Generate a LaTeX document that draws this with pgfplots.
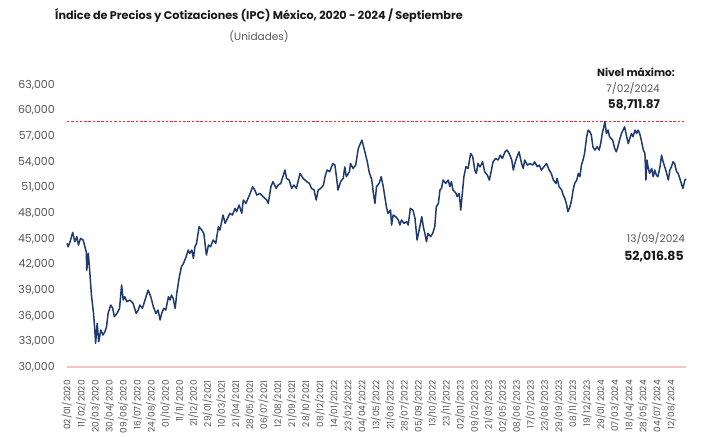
\documentclass[border=0pt]{standalone}
\usepackage{fontspec}
\setmainfont{Poppins}
\usepackage{pgfplots}
\pgfplotsset{compat=1.18}
\definecolor{linec}{HTML}{1F3A6E}
\definecolor{pinkc}{HTML}{F2C4C4}
\definecolor{grayt}{HTML}{555555}
\definecolor{titc}{HTML}{1A1A1A}
\begin{document}
\begin{tikzpicture}
\useasboundingbox (-67bp,-70bp) rectangle (638bp,367bp);
\begin{axis}[
  at={(0,0)}, anchor=south west,
  scale only axis, width=619bp, height=282bp,
  xmin=0, xmax=1190, ymin=30000, ymax=63000,
  clip=false,
  axis x line*=bottom, axis y line*=left,
  y axis line style={draw=none},
  x axis line style={draw=pinkc, line width=2.8bp, -},
  tick style={draw=none},
  scaled y ticks=false,
  ytick={30000,33000,36000,39000,42000,45000,48000,51000,54000,57000,60000,63000},
  /pgf/number format/.cd, 1000 sep={,}, assume math mode=true, /pgfplots/.cd,
  yticklabel style={anchor=east, inner sep=0pt, xshift=-12bp, text=grayt, font=\fontsize{11bp}{12bp}\selectfont},
  xtick={0,27,54,81,108,135,162,189,216,243,270,297,324,351,378,405,432,459,486,513,540,567,594,621,648,675,702,729,756,783,810,837,864,891,918,945,972,999,1026,1053,1080,1107,1134,1161},
  xticklabels={02/01/2020,11/02/2020,20/03/2020,30/04/2020,09/06/2020,16/07/2020,24/08/2020,01/10/2020,11/11/2020,21/12/2020,29/01/2021,10/03/2021,21/04/2021,28/05/2021,06/07/2021,12/08/2021,21/09/2021,28/10/2021,08/12/2021,14/01/2022,23/02/2022,04/04/2022,13/05/2022,21/06/2022,28/07/2022,05/09/2022,13/10/2022,23/11/2022,02/01/2023,09/02/2023,21/03/2023,02/05/2023,08/06/2023,17/07/2023,23/08/2023,29/09/2023,08/11/2023,19/12/2023,29/01/2024,07/03/2024,18/04/2024,28/05/2024,04/07/2024,12/08/2024},
  xticklabel style={rotate=90, anchor=east, inner xsep=13bp, inner ysep=0pt, text=grayt, font=\fontsize{9bp}{10bp}\selectfont},
]
\addplot[red!85!white, no marks, line width=1.3bp, dash pattern=on 2.5bp off 1.8bp] coordinates {(0,58711.87) (1190,58711.87)};
\addplot[color=linec, no marks, line width=1.5bp, line join=round] coordinates {
(0,44470)(2,44070)(6,44660)(11,45760)(15,44660)(19,45250)(22,44270)(26,45050)(31,44860)(37,43490)
(38,41350)(41,43300)(44,40960)(47,38420)(51,36270)(53,34710)(55,32770)(58,35110)(61,32960)(65,34330)
(69,33740)(73,34130)(76,34710)(79,36270)(84,37250)(88,36860)(91,35880)(96,36270)(101,36860)(105,39590)
(108,37840)(111,38230)(115,37640)(121,37840)(127,37450)(133,36270)(137,36670)(140,37250)(145,36860)(150,37840)
(156,39010)(161,38230)(166,37060)(171,36270)(175,36670)(179,35500)(182,36270)(186,36860)(190,36670)(195,38230)
(198,37840)(201,38420)(204,38040)(208,36860)(211,38620)(216,40570)(220,41740)(224,42130)(229,42900)(233,43690)
(236,43300)(240,43690)(243,42720)(246,44070)(249,44470)(254,46410)(259,46030)(263,45640)(268,43100)(272,44270)
(276,44070)(281,44860)(286,44470)(291,46410)(294,46030)(300,47780)(304,46810)(310,47590)(313,47980)(318,47780)
(323,48570)(326,48170)(331,48950)(336,47980)(339,49540)(344,49150)(348,49730)(352,50320)(357,51100)(361,50710)
(365,50120)(371,50320)(377,49930)(384,49540)(387,49150)(392,51100)(396,51690)(402,50910)(406,51290)(411,51490)
(414,52080)(419,53050)(422,52080)(427,51880)(432,50910)(436,51290)(441,50910)(448,52650)(454,52080)(461,51690)
(466,51490)(470,50910)(475,50710)(479,49540)(483,50710)(488,50910)(493,51290)(496,52270)(500,53050)(505,52850)
(511,53810)(515,53630)(518,52270)(521,50710)(526,51690)(531,52080)(534,53420)(537,52270)(543,52850)(545,53810)
(550,53230)(555,53630)(560,55570)(564,56150)(567,56540)(573,55100)(577,54100)(581,52800)(586,51880)(589,50320)
(592,49150)(595,51100)(600,51490)(604,52270)(608,51100)(611,49930)(614,48760)(617,47980)(622,48370)(624,46610)
(627,47780)(632,47590)(637,47200)(640,46610)(643,47200)(648,46810)(653,47000)(656,46610)(660,48570)(665,48370)
(669,47390)(673,44860)(677,46030)(682,47590)(685,46420)(688,45640)(691,44660)(694,45640)(699,45250)(703,45640)
(707,46420)(710,48760)(714,49150)(717,50710)(720,50910)(723,51880)(728,51490)(733,51880)(736,51100)(739,51690)
(742,50710)(748,50320)(750,49930)(754,50320)(757,48370)(760,50320)(763,52270)(767,53440)(771,53230)(776,54990)
(780,54600)(784,53050)(787,52650)(790,53810)(794,53420)(799,54010)(803,52850)(808,52460)(812,51880)(816,53050)
(819,54010)(824,54400)(829,54220)(833,54800)(837,54400)(842,55180)(846,55390)(850,54990)(855,54220)(858,53050)
(861,53810)(864,54400)(869,55180)(874,53810)(877,53230)(880,54220)(885,53630)(890,53810)(895,53630)(899,54010)
(904,53440)(908,53630)(912,53050)(917,53440)(922,53810)(927,53050)(931,52650)(935,51880)(940,51490)(942,52080)
(946,51100)(951,50710)(954,50120)(957,49730)(960,49150)(963,48170)(967,48760)(970,49540)(973,50710)(976,51490)
(980,51880)(983,52650)(986,52270)(989,53630)(992,54220)(995,54990)(999,56950)(1002,57730)(1005,57540)(1008,57140)
(1011,55770)(1015,55390)(1019,55770)(1023,55390)(1026,56150)(1029,57320)(1032,58100)(1034,58711.87)(1037,57320)(1040,57730)
(1043,56950)(1049,56560)(1053,55570)(1056,55180)(1059,55770)(1063,56750)(1066,57320)(1069,57730)(1072,58100)(1076,56950)
(1079,56150)(1082,56750)(1085,57320)(1088,56950)(1092,57730)(1095,57320)(1098,57730)(1101,57320)(1104,56560)(1108,55390)
(1111,54990)(1113,51880)(1115,54220)(1117,53440)(1120,52650)(1124,53230)(1127,52270)(1130,53050)(1133,52460)(1136,52270)
(1140,53440)(1143,54800)(1146,54010)(1149,53440)(1152,52850)(1156,51880)(1159,53050)(1162,53440)(1165,54010)(1168,53810)
(1172,52850)(1175,52650)(1178,52080)(1181,51490)(1184,50910)(1188,51880)(1190,52016.85)
};
\end{axis}
\node[text=titc, font=\fontsize{11.2bp}{13bp}\selectfont\bfseries] at (192bp,351bp) {Índice de Precios y Cotizaciones (IPC) México, 2020 - 2024 / Septiembre};
\node[text=grayt, font=\fontsize{10.5bp}{12bp}\selectfont] at (192bp,330bp) {(Unidades)};
\node[text=titc, font=\fontsize{10.5bp}{12bp}\selectfont\bfseries] at (569bp,295bp) {Nivel máximo:};
\node[text=grayt, font=\fontsize{10.5bp}{12bp}\selectfont] at (566bp,279bp) {7/02/2024};
\node[text=titc, font=\fontsize{12bp}{14bp}\selectfont\bfseries] at (567bp,262bp) {58,711.87};
\node[text=grayt, font=\fontsize{10.5bp}{12bp}\selectfont] at (589bp,129bp) {13/09/2024};
\node[text=titc, font=\fontsize{12.5bp}{14bp}\selectfont\bfseries] at (587bp,110bp) {52,016.85};
\end{tikzpicture}
\end{document}
